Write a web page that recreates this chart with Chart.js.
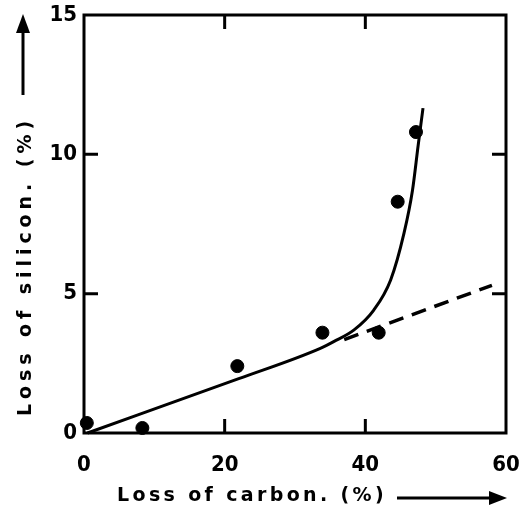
<!DOCTYPE html>
<html>
<head>
<meta charset="utf-8">
<title>Loss of silicon vs loss of carbon</title>
<script src="https://cdn.jsdelivr.net/npm/chart.js@4"></script>
<style>
  body { margin: 0; background: #fff; }
  canvas { display: block; }
</style>
</head>
<body>
<canvas id="lossChart" width="520" height="511"></canvas>
<script>
// measured points (loss of carbon %, loss of silicon %)
const measuredCarbon = [0.4, 8.3, 21.8, 33.9, 41.9, 44.6, 47.2];
const measuredSilicon = [0.36, 0.18, 2.4, 3.6, 3.6, 8.3, 10.8];

// solid fitted curve
const curveCarbon = [0.5, 22, 33.6, 35.5, 38.4, 41.2, 43.6, 45.5, 46.7, 47.5, 48.2];
const curveSilicon = [0, 1.95, 3.04, 3.28, 3.7, 4.41, 5.49, 7.17, 8.7, 10.3, 11.66];

// dashed extrapolation
const dashCarbon = [37, 58];
const dashSilicon = [3.35, 5.3];

const xTicks = [0, 20, 40, 60];
const yTicks = [0, 5, 10, 15];

const xTitle = "Loss of carbon. (%)";
const yTitle = "Loss of silicon. (%)";

const toPoints = (xs, ys) => xs.map((x, i) => ({ x: x, y: ys[i] }));

const FONT = "DejaVu Sans";
const TICK_FONT = "DejaVu Sans Condensed";

// write text spread out to a given width
function spreadText(ctx, text, x, y, width) {
  ctx.letterSpacing = "0px";
  const w = ctx.measureText(text).width;
  ctx.letterSpacing = ((width - w) / text.length) + "px";
  ctx.fillText(text, x, y);
  ctx.letterSpacing = "0px";
}

// draws the frame, inward ticks, axis titles and arrows
const framePlugin = {
  id: "frame",
  afterDraw(chart) {
    const ctx = chart.ctx;
    const area = chart.chartArea;
    const xs = chart.scales.x;
    const ys = chart.scales.y;
    ctx.save();
    ctx.strokeStyle = "#000";
    ctx.fillStyle = "#000";
    ctx.lineWidth = 3;
    ctx.strokeRect(area.left, area.top, area.right - area.left, area.bottom - area.top);

    const tickLen = 14;
    ctx.beginPath();
    xTicks.slice(1, -1).forEach(v => {
      const px = xs.getPixelForValue(v);
      ctx.moveTo(px, area.bottom);
      ctx.lineTo(px, area.bottom - tickLen);
      ctx.moveTo(px, area.top);
      ctx.lineTo(px, area.top + tickLen);
    });
    yTicks.slice(1, -1).forEach(v => {
      const py = ys.getPixelForValue(v);
      ctx.moveTo(area.left, py);
      ctx.lineTo(area.left + tickLen, py);
      ctx.moveTo(area.right, py);
      ctx.lineTo(area.right - tickLen, py);
    });
    ctx.stroke();

    // x title + arrow
    ctx.font = "bold 19px '" + FONT + "'";
    ctx.textBaseline = "middle";
    ctx.textAlign = "left";
    spreadText(ctx, xTitle, 117, 496, 270);
    ctx.lineWidth = 3;
    ctx.beginPath();
    ctx.moveTo(397, 498);
    ctx.lineTo(492, 498);
    ctx.stroke();
    ctx.beginPath();
    ctx.moveTo(507, 498);
    ctx.lineTo(489, 491);
    ctx.lineTo(489, 505);
    ctx.closePath();
    ctx.fill();

    // y title + arrow
    ctx.save();
    ctx.translate(26, 416);
    ctx.rotate(-Math.PI / 2);
    spreadText(ctx, yTitle, 0, 0, 300);
    ctx.restore();
    ctx.beginPath();
    ctx.moveTo(23, 95);
    ctx.lineTo(23, 30);
    ctx.stroke();
    ctx.beginPath();
    ctx.moveTo(23, 14);
    ctx.lineTo(16, 33);
    ctx.lineTo(30, 33);
    ctx.closePath();
    ctx.fill();
    ctx.restore();
  }
};

new Chart(document.getElementById("lossChart"), {
  type: "scatter",
  data: {
    datasets: [
      {
        label: "measured",
        data: toPoints(measuredCarbon, measuredSilicon),
        backgroundColor: "#000",
        borderColor: "#000",
        pointRadius: 6.5,
        clip: false,
      },
      {
        label: "fit",
        data: toPoints(curveCarbon, curveSilicon),
        showLine: true,
        borderColor: "#000",
        borderWidth: 3,
        pointRadius: 0,
        cubicInterpolationMode: "monotone",
        clip: false,
      },
      {
        label: "extrapolation",
        data: toPoints(dashCarbon, dashSilicon),
        showLine: true,
        borderColor: "#000",
        borderWidth: 3.5,
        borderDash: [15, 9],
        pointRadius: 0,
      },
    ],
  },
  options: {
    responsive: false,
    animation: false,
    layout: { padding: { top: 15, right: 14, left: 0, bottom: 0 } },
    plugins: {
      legend: { display: false },
      tooltip: { enabled: false },
    },
    scales: {
      x: {
        type: "linear",
        min: 0,
        max: 60,
        grid: { display: false, drawTicks: false },
        border: { display: false },
        afterFit: s => { s.height = 78; s.paddingLeft = 0; s.paddingRight = 0; },
        afterBuildTicks: s => { s.ticks = xTicks.map(v => ({ value: v })); },
        ticks: {
          color: "#000",
          padding: 19,
          font: { family: TICK_FONT, size: 22, weight: "bold" },
        },
      },
      y: {
        type: "linear",
        min: 0,
        max: 15,
        grid: { display: false, drawTicks: false },
        border: { display: false },
        afterFit: s => { s.width = 84; s.paddingTop = 0; s.paddingBottom = 0; },
        afterBuildTicks: s => { s.ticks = yTicks.map(v => ({ value: v })); },
        ticks: {
          color: "#000",
          padding: 7,
          font: { family: TICK_FONT, size: 22, weight: "bold" },
        },
      },
    },
  },
  plugins: [framePlugin],
});
</script>
</body>
</html>
